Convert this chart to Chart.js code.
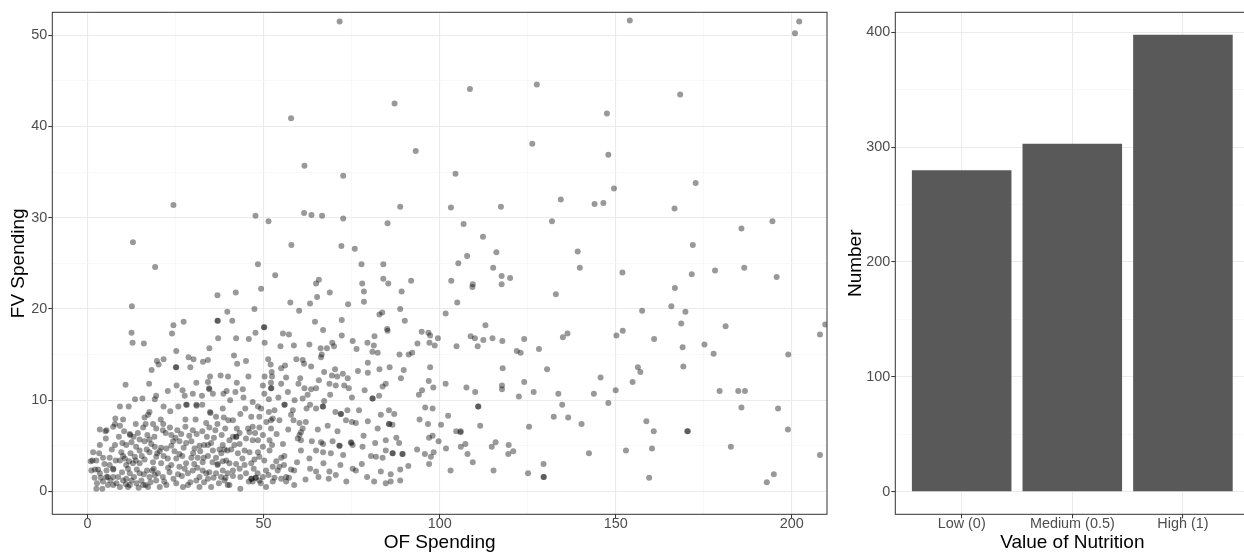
<!DOCTYPE html>
<html>
<head>
<meta charset="utf-8">
<script src="https://cdn.jsdelivr.net/npm/chart.js@4.4.1/dist/chart.umd.min.js"></script>
<style>
  html, body { margin: 0; padding: 0; background: #fff; overflow: hidden; }
  #wrap { position: relative; width: 1244px; height: 552px; overflow: hidden; }
  #scatterChart { position: absolute; left: 0; top: 0; }
  #barChart { position: absolute; left: 840px; top: 0; }
</style>
</head>
<body>
<div id="wrap">
  <canvas id="scatterChart" width="840" height="552"></canvas>
  <canvas id="barChart" width="420" height="552"></canvas>
</div>
<script>
// [OF spending, FV spending] per household
var spendingPairs = [
  [71.6,51.5],[57.8,40.9],[87.2,42.5],[93.2,37.3],[61.6,35.7],[72.6,34.6],[24.4,31.4],[88.8,31.2],
  [47.7,30.2],[61.5,30.5],[63.6,30.3],[66.6,30.2],[51.4,29.6],[72.6,29.9],[85.2,29.4],[12.9,27.3],
  [57.9,27.0],[72.1,26.9],[75.9,26.6],[19.2,24.6],[48.4,24.9],[77.8,24.9],[84.0,24.9],[53.3,23.7],
  [65.7,23.2],[84.0,23.3],[91.9,23.1],
  [154.0,51.6],[202.1,51.5],[200.9,50.2],[108.6,44.1],[127.6,44.6],[168.3,43.5],[147.5,41.4],[126.3,38.1],
  [147.9,36.9],[104.5,34.8],[172.7,33.8],[149.5,33.2],[103.2,31.1],[117.4,31.2],[134.4,32.0],[144.0,31.5],
  [146.5,31.6],[166.7,31.0],[106.8,29.3],[131.9,29.6],[185.7,28.8],[194.5,29.6],[112.3,27.9],[171.9,27.0],
  [107.8,25.8],[116.1,26.2],[139.2,26.3],[105.3,25.0],[115.2,24.5],[117.6,23.6],[120.0,23.4],[139.8,24.5],
  [151.9,24.0],[171.6,23.8],[178.2,24.2],[186.5,24.5],[195.7,23.5],[103.3,23.1],
  [117.6,22.7],[109.4,22.7],[109.3,22.4],[89.2,21.9],[133.0,21.6],[105.0,20.7],[101.7,19.5],[88.8,20.0],
  [90.1,18.7],[113.0,18.2],[94.9,17.5],[96.8,17.4],[97.3,17.1],[108.8,17.0],[110.0,16.8],[115.0,16.8],
  [112.4,16.6],[117.8,16.5],[124.0,16.7],[99.5,16.8],[93.7,16.2],[97.1,16.3],[98.6,16.0],[104.8,15.9],
  [110.8,15.9],[121.9,15.4],[123.0,15.2],[128.2,15.6],[150.2,17.1],[152.0,17.6],[157.5,19.8],[165.8,20.3],
  [166.8,22.3],[169.8,19.7],[168.6,18.4],[181.2,18.1],[160.9,16.7],[136.3,17.3],[135.0,16.9],[169.0,15.8],
  [175.2,16.1],[177.8,15.1],[208.0,17.2],[209.5,18.3],[199.0,15.0],[88.6,15.0],[91.2,15.0],[92.2,15.2],
  [89.8,13.3],[89.0,12.4],[97.3,13.6],[96.9,12.1],[98.2,11.4],[101.7,11.8],[94.1,10.6],[95.0,11.1],
  [107.6,11.4],[110.1,10.9],[117.9,13.5],[117.7,11.6],[117.7,11.2],[124.0,12.0],[122.5,10.4],[126.7,10.9],
  [130.5,13.4],[133.7,10.7],[145.7,12.5],[143.8,10.7],[150.0,11.1],[154.8,12.0],[156.3,13.6],[157.0,13.1],
  [169.2,13.7],[179.5,11.0],[184.8,11.0],[186.7,11.0],[185.7,9.2],[196.1,9.1],[198.9,6.8],[208.0,4.0],
  [95.9,9.2],[98.0,9.1],[94.3,7.9],[96.7,7.4],[100.4,7.3],[102.4,8.3],[110.9,9.3],[111.0,9.3],
  [111.5,7.2],[104.7,6.6],[105.9,6.5],[106.0,6.6],[97.0,5.9],[98.0,6.1],[99.7,5.5],[107.3,5.2],
  [106.0,4.9],[101.8,4.7],[93.6,4.6],[95.8,4.1],[97.5,3.8],[98.3,4.3],[107.9,4.1],[97.0,3.0],
  [89.4,4.1],[89.5,4.1],[88.8,2.4],[88.8,1.2],[91.1,2.8],[103.1,2.3],[109.4,3.2],[114.8,4.9],
  [115.9,5.4],[119.6,5.1],[120.9,4.4],[119.5,4.1],[115.3,2.3],[125.4,7.1],[132.4,8.2],[134.8,9.5],
  [136.5,8.1],[140.3,7.4],[147.9,9.7],[129.5,3.0],[125.1,2.0],[129.5,1.6],[129.6,1.6],[142.4,4.2],
  [152.9,4.5],[158.7,7.7],[160.8,6.6],[160.3,4.7],[159.5,1.5],[170.3,6.6],[170.5,6.6],[182.7,4.9],
  [192.9,1.0],[194.9,1.9],
  [85.4,22.8],[64.9,22.8],[78.0,22.8],[78.5,21.9],[68.8,21.8],[49.3,22.2],[42.1,21.8],[36.9,21.5],
  [65.2,21.3],[63.2,20.6],[74.0,20.5],[78.5,20.8],[47.4,20.0],[39.7,19.7],[83.7,19.6],[82.9,19.4],
  [85.2,17.6],[85.1,17.8],[85.8,13.6],[81.5,17.0],[81.3,16.0],[80.9,15.3],[82.4,15.2],[79.5,16.3],
  [76.4,15.6],[75.3,16.5],[79.6,14.1],[79.6,13.0],[72.2,18.8],[72.2,17.1],[66.9,17.7],[69.5,16.3],
  [70.0,15.9],[68.0,15.7],[66.2,15.7],[66.5,15.0],[66.3,14.7],[63.5,13.7],[67.2,13.1],[70.3,13.4],
  [69.4,12.7],[70.9,12.6],[72.5,12.9],[73.9,12.4],[61.1,14.4],[61.5,14.0],[59.3,14.5],[56.1,13.8],
  [55.0,13.5],[52.3,13.1],[52.4,12.6],[50.3,12.6],[56.4,12.5],[60.4,12.4],[51.3,14.5],[52.0,13.9],
  [57.2,17.2],[55.5,17.3],[50.3,16.3],[50.1,18.0],[50.2,18.0],[47.7,17.4],[45.8,16.7],[42.2,16.8],
  [37.1,16.8],[41.1,18.7],[36.9,18.7],[37.0,18.7],[34.6,15.7],[41.6,14.9],[42.5,14.0],[45.0,14.3],
  [24.4,18.2],[24.0,17.3],[27.3,18.6],[25.2,15.4],[12.5,17.4],[12.8,16.3],[12.6,20.3],[16.0,16.2],
  [28.7,14.7],[30.1,14.5],[29.2,13.6],[25.1,13.6],[25.2,13.6],[19.7,14.3],[21.6,14.5],[20.2,13.9],
  [18.2,13.3],[32.8,14.2],[34.2,14.4],[34.8,12.6],[37.8,12.7],[39.9,12.6],
  [10.8,11.7],[22.8,11.0],[19.5,10.5],[19.1,10.1],[15.6,10.2],[13.5,10.1],[27.0,11.1],[27.6,10.5],
  [29.9,10.7],[32.5,10.5],[34.2,12.0],[34.5,11.3],[34.6,11.2],[35.6,10.7],[38.6,10.7],[39.5,11.0],
  [9.2,9.3],[11.7,9.3],[17.6,8.7],[17.2,8.4],[21.6,9.3],[23.5,8.8],[25.8,9.3],[28.0,9.5],
  [28.2,9.5],[30.9,9.5],[31.0,9.4],[32.6,9.5],[34.8,8.7],[34.9,8.6],[36.5,8.2],[38.4,9.1],
  [38.7,8.1],[7.9,8.0],[10.1,7.9],[7.8,7.4],[9.2,7.2],[13.7,7.4],[16.2,8.1],[16.5,7.4],
  [15.8,7.0],[18.6,7.4],[20.8,7.9],[21.5,7.4],[19.5,6.9],[21.4,6.7],[23.4,7.0],[25.5,6.7],
  [22.2,6.4],[23.8,6.2],[27.8,7.9],[30.7,7.9],[27.8,7.1],[29.9,6.7],[32.6,6.6],[33.7,7.5],
  [34.6,7.0],[36.9,7.4],[36.3,6.7],[38.1,6.2],[39.1,6.9],[40.0,7.8],[5.1,6.6],[5.2,5.8],
  [7.8,5.1],[12.0,6.3],[12.1,6.2],[13.1,6.0],[12.5,5.4],[14.8,5.7],[16.2,5.5],[17.6,5.7],
  [9.9,5.3],[11.0,5.1],[20.9,4.8],[20.5,4.4],[19.1,4.9],[19.8,4.2],[22.4,4.7],[23.8,5.0],
  [24.3,5.5],[26.1,5.5],[27.3,4.8],[28.0,5.3],[29.5,5.5],[30.4,4.7],[31.8,5.0],[33.1,5.1],
  [34.2,5.1],[35.1,5.3],[35.6,4.5],[37.5,4.6],[38.4,5.1],[39.7,4.5],[1.6,4.3],[3.3,4.2],
  [0.9,3.3],[2.5,3.4],[4.4,3.7],[6.3,3.7],[2.1,2.4],[3.5,2.0],[5.4,2.3],[5.8,1.6],
  [7.3,2.5],[9.2,3.4],[10.6,3.6],[11.0,2.9],[12.9,3.1],[14.8,3.1],[16.2,3.5],[16.9,2.3],
  [18.8,2.5],[19.5,3.8],[20.9,3.1],[22.8,3.6],[23.8,2.9],[25.2,3.6],[26.1,2.7],[28.0,3.1],
  [29.5,3.7],[31.3,3.7],[32.7,3.2],[34.2,3.9],[36.5,3.7],[38.0,4.2],[39.4,3.4],[2.7,0.9],
  [4.4,1.1],[5.8,0.7],[7.3,0.7],[9.2,0.5],[11.5,0.5],[12.5,1.2],[13.9,0.9],[15.8,0.7],
  [17.2,0.5],[19.5,1.2],[20.5,0.5],[22.4,0.7],[25.2,0.9],[27.1,0.5],[28.5,0.7],[30.9,1.2],
  [31.8,0.5],[34.2,1.4],[35.1,0.5],[37.3,0.9],[38.9,1.2],[39.8,0.7],[7.3,1.6],[12.0,2.0],
  [14.8,2.0],[17.6,1.6],[19.1,1.8],[21.4,1.6],[23.3,2.1],[25.7,1.9],[28.5,2.0],[29.9,2.3],
  [32.7,2.3],[34.6,2.1],[36.5,2.0],[38.4,2.3],[39.8,2.0],[3.5,5.1],[11.0,1.4],[15.3,1.2],
  [8.7,1.6],[13.4,3.8],[17.6,4.3],[9.6,4.3],[14.8,4.5],[12.2,4.2],[3.5,6.8],[5.4,6.7],
  [1.4,3.4],[1.1,2.3],[2.5,0.3],[4.2,0.3],[7.3,7.1],[5.4,1.6],[7.3,2.4],[11.5,2.5],
  [14.0,2.4],[10.1,1.2],[12.0,0.7],[16.5,0.7],[13.7,3.4],[18.4,2.3],[31.8,1.6],[33.7,2.0],
  [26.1,4.1],[6.3,2.9],[3.0,2.4],
  [42.4,11.9],[44.1,11.2],[42.0,10.9],[44.3,10.3],[52.1,11.9],[49.8,11.6],[50.2,10.7],[51.5,10.1],
  [52.1,11.3],[52.2,11.3],[55.0,11.8],[59.9,11.8],[61.6,11.3],[63.5,11.2],[64.9,11.3],[62.5,10.6],
  [61.1,10.2],[68.7,11.8],[70.5,11.6],[72.9,11.6],[75.1,10.3],[80.9,10.2],[81.0,10.2],[82.8,10.5],
  [83.8,11.5],[84.7,11.8],[55.9,9.5],[56.0,9.5],[53.1,8.9],[51.5,8.7],[49.3,9.1],[48.4,9.3],
  [58.3,8.9],[57.8,8.4],[58.5,7.8],[60.2,7.5],[62.2,9.1],[63.2,9.5],[64.9,9.1],[66.8,9.3],
  [66.9,9.3],[67.2,9.9],[70.4,8.7],[71.9,8.5],[72.0,8.5],[73.8,8.9],[73.4,7.8],[75.1,7.6],
  [76.2,7.5],[83.3,8.4],[85.6,8.9],[87.1,8.5],[85.6,7.4],[85.7,7.4],[86.6,7.3],[52.1,7.8],
  [52.6,8.0],[54.5,7.8],[48.8,8.2],[46.5,8.2],[43.4,8.5],[41.3,7.8],[42.4,6.9],[43.2,6.4],
  [41.3,6.0],[42.2,6.0],[42.3,6.0],[46.9,7.1],[46.0,6.5],[48.8,7.0],[49.8,6.2],[48.4,5.6],
  [46.9,5.6],[45.0,5.8],[43.2,5.2],[40.3,5.6],[51.7,5.6],[52.1,6.9],[49.8,4.9],[48.4,4.3],
  [51.7,4.5],[52.4,5.1],[60.6,6.5],[60.2,6.2],[61.1,6.9],[60.6,5.6],[59.7,5.8],[63.7,5.5],
  [66.3,5.4],[66.9,5.2],[69.6,5.5],[71.5,5.0],[71.6,5.0],[74.8,5.4],[74.9,5.3],[75.3,5.1],
  [78.1,4.9],[78.4,6.1],[81.7,5.3],[84.7,5.6],[87.7,5.9],[88.5,5.3],[60.6,4.5],[63.0,3.6],
  [64.9,4.5],[66.9,4.3],[69.1,4.2],[72.6,4.0],[80.5,3.9],[81.9,3.8],[83.8,3.7],[86.6,4.2],
  [86.7,4.2],[84.7,4.5],[55.0,3.7],[55.9,3.9],[54.5,2.7],[52.6,2.7],[54.0,2.3],[57.8,2.4],
  [58.7,2.3],[56.4,1.6],[55.0,1.4],[53.1,1.5],[50.7,2.3],[49.8,1.6],[48.8,1.2],[47.7,1.5],
  [47.8,1.5],[46.5,1.4],[46.6,1.4],[45.0,2.0],[43.4,1.6],[41.3,1.7],[39.2,1.5],[40.3,0.7],
  [43.4,0.3],[46.9,1.1],[50.7,0.5],[52.6,1.1],[56.4,1.1],[58.7,0.7],[63.2,2.5],[64.9,2.2],
  [65.6,1.6],[68.7,2.2],[68.5,1.4],[70.5,1.8],[75.3,2.5],[76.2,2.3],[81.4,1.1],[83.3,2.2],
  [84.7,0.9],[86.1,1.1],[86.1,1.9],[50.2,3.4],[48.8,3.8],[47.4,3.5],[46.0,4.3],[44.6,4.5],
  [42.7,4.2],[41.7,5.1],[40.8,4.6],[38.9,4.6],[38.4,3.3],[40.3,3.1],[42.2,3.0],[44.6,2.9],
  [46.5,3.1],[43.2,2.5],[41.3,2.3],
  // overlapping points in the dense lower-left cluster
  [3.8,1.5],[6.5,1.2],[8.2,0.9],[9.8,2.1],[10.9,0.8],[13.2,1.6],[14.5,0.4],[16.0,1.9],
  [17.9,1.0],[18.6,3.2],[20.0,2.0],[21.8,1.1],[22.9,2.6],[24.4,1.4],[26.8,1.7],[27.6,2.5],
  [29.2,1.0],[30.3,3.0],[31.2,2.6],[33.1,1.0],[35.8,1.5],[36.9,2.9],[37.9,1.6],[6.9,4.6],
  [8.0,3.4],[10.1,3.9],[11.8,3.3],[13.8,4.9],[15.4,3.9],[16.8,4.6],[18.1,5.2],[21.6,3.9],
  [24.7,4.4],[26.9,3.9],[30.0,4.2],[32.0,4.4],[33.0,3.7],[35.5,3.2],[37.0,3.0],[4.8,3.0],
  [2.0,1.5],[8.9,6.0],[10.4,6.6],[14.3,6.4],[17.0,6.2],[19.0,6.0],[25.0,5.9],[26.6,6.3],
  [28.9,6.1],[31.0,6.3],[33.9,6.0],[35.9,5.9],
  [44.0,3.6],[45.8,1.1],[47.2,2.5],[48.3,2.0],[49.2,0.9],[51.4,1.8],[53.6,3.3],[55.8,2.9],
  [57.2,1.5],[59.5,3.2],[45.6,6.9],[47.6,6.4],[50.8,7.6],[53.7,6.3],[55.5,5.2],[57.0,6.8],
  [44.8,9.1],[46.9,9.8],[54.2,10.3],[56.9,10.9],[58.8,10.0],
  [61.9,1.3],[67.0,3.1],[71.8,2.9],[73.5,1.1],[77.9,3.0],[79.4,1.6],[62.0,7.6],[65.4,6.8],
  [68.2,7.2],[71.0,6.6],[77.1,8.9],[79.6,7.7],[82.4,6.9],[68.9,10.6],[74.2,11.3],[78.7,11.1],
  [65.7,12.2],[76.8,13.2],[82.9,13.4],[58.6,16.0],[63.0,16.1],[64.6,18.6],[60.1,19.8],[57.6,20.7],
  [54.8,15.9],[45.7,12.6],[40.5,10.0],[30.9,11.9],[25.3,11.6],[17.5,11.8]
];
var ofTicks = [0, 50, 100, 150, 200];
var fvTicks = [0, 10, 20, 30, 40, 50];

var nutritionLevels = ["Low (0)", "Medium (0.5)", "High (1)"];
var nutritionCounts = [280, 303, 398];
var countTicks = [0, 100, 200, 300, 400];

var FONT = "'Liberation Sans', Arial, Helvetica, sans-serif";
var TICK_FONT = { family: FONT, size: 14.4, lineHeight: 1 };
var TITLE_FONT = { family: FONT, size: 19, lineHeight: 1 };

// ggplot style: minor gridlines half way between the major breaks
function withMinor(major) {
  var out = [];
  major.forEach(function (v, i) {
    if (i > 0) out.push((major[i - 1] + v) / 2);
    out.push(v);
  });
  return out;
}

function isMajor(major, v) {
  return major.indexOf(v) >= 0;
}

function tickValue(c) {
  return c && c.tick ? c.tick.value : null;
}

function gridFor(major) {
  return {
    offset: false,
    color: function (c) { return isMajor(major, tickValue(c)) ? "#ebebeb" : "#f3f3f3"; },
    lineWidth: function (c) { return isMajor(major, tickValue(c)) ? 1.1 : 0.6; },
    tickColor: function (c) { return isMajor(major, tickValue(c)) ? "#333333" : "rgba(0,0,0,0)"; },
    tickWidth: 1,
    tickLength: 4
  };
}

var panelBorder = {
  id: "panelBorder",
  afterDraw: function (chart) {
    var a = chart.chartArea;
    var ctx = chart.ctx;
    ctx.save();
    ctx.strokeStyle = "#333333";
    ctx.lineWidth = 1;
    ctx.strokeRect(a.left, a.top, a.right - a.left, a.bottom - a.top);
    ctx.restore();
  }
};

Chart.defaults.animation = false;
Chart.defaults.font.family = FONT;

new Chart(document.getElementById("scatterChart"), {
  type: "scatter",
  data: {
    datasets: [{
      data: spendingPairs.map(function (p) { return { x: p[0], y: p[1] }; }),
      backgroundColor: "rgba(0,0,0,0.4)",
      borderWidth: 0,
      pointRadius: 3,
      pointHoverRadius: 3
    }]
  },
  options: {
    responsive: false,
    events: [],
    layout: { padding: { top: 12.3, right: 13, left: 0, bottom: 0 } },
    plugins: { legend: { display: false }, tooltip: { enabled: false } },
    scales: {
      x: {
        type: "linear",
        min: -10,
        max: 210,
        border: { display: false },
        grid: gridFor(ofTicks),
        afterBuildTicks: function (axis) {
          axis.ticks = withMinor(ofTicks).map(function (v) { return { value: v }; });
        },
        afterFit: function (axis) { axis.height = 37.7; },
        ticks: {
          autoSkip: false,
          maxRotation: 0,
          padding: -1.5,
          color: "#4d4d4d",
          font: TICK_FONT,
          callback: function (v) { return isMajor(ofTicks, v) ? String(v) : ""; }
        },
        title: { display: true, text: "OF Spending", color: "#000", font: TITLE_FONT, padding: { top: 0, bottom: 0 } }
      },
      y: {
        type: "linear",
        min: -2.5,
        max: 52.5,
        border: { display: false },
        grid: gridFor(fvTicks),
        afterBuildTicks: function (axis) {
          axis.ticks = withMinor(fvTicks).map(function (v) { return { value: v }; });
        },
        afterFit: function (axis) { axis.width = 52.3; },
        ticks: {
          autoSkip: false,
          padding: 1,
          color: "#4d4d4d",
          font: TICK_FONT,
          callback: function (v) { return isMajor(fvTicks, v) ? String(v) : ""; }
        },
        title: { display: true, text: "FV Spending", color: "#000", font: TITLE_FONT, padding: { top: 9, bottom: 0 } }
      }
    }
  },
  plugins: [panelBorder]
});

new Chart(document.getElementById("barChart"), {
  type: "bar",
  data: {
    datasets: [{
      data: nutritionLevels.map(function (lvl, i) { return { x: i + 1, y: nutritionCounts[i] }; }),
      backgroundColor: "#595959",
      borderWidth: 0,
      barPercentage: 0.9,
      categoryPercentage: 1
    }]
  },
  options: {
    responsive: false,
    events: [],
    layout: { padding: { top: 12.3, right: 10.7, left: 0, bottom: 0 } },
    plugins: { legend: { display: false }, tooltip: { enabled: false } },
    scales: {
      x: {
        type: "linear",
        offset: false,
        min: 0.4,
        max: 3.6,
        border: { display: false },
        grid: gridFor([1, 2, 3]),
        afterBuildTicks: function (axis) {
          axis.ticks = nutritionLevels.map(function (lvl, i) { return { value: i + 1 }; });
        },
        afterFit: function (axis) { axis.height = 37.7; },
        ticks: {
          autoSkip: false,
          maxRotation: 0,
          padding: -1.5,
          color: "#4d4d4d",
          font: TICK_FONT,
          callback: function (v) { return nutritionLevels[v - 1] || ""; }
        },
        title: { display: true, text: "Value of Nutrition", color: "#000", font: TITLE_FONT, padding: { top: 0, bottom: 0 } }
      },
      y: {
        type: "linear",
        min: -19.7,
        max: 417.5,
        border: { display: false },
        grid: gridFor(countTicks),
        afterBuildTicks: function (axis) {
          axis.ticks = withMinor(countTicks).map(function (v) { return { value: v }; });
        },
        afterFit: function (axis) { axis.width = 55.3; },
        ticks: {
          autoSkip: false,
          padding: 1,
          color: "#4d4d4d",
          font: TICK_FONT,
          callback: function (v) { return isMajor(countTicks, v) ? String(v) : ""; }
        },
        title: { display: true, text: "Number", color: "#000", font: TITLE_FONT, padding: { top: 6.5, bottom: 0 } }
      }
    }
  },
  plugins: [panelBorder]
});
</script>
</body>
</html>
